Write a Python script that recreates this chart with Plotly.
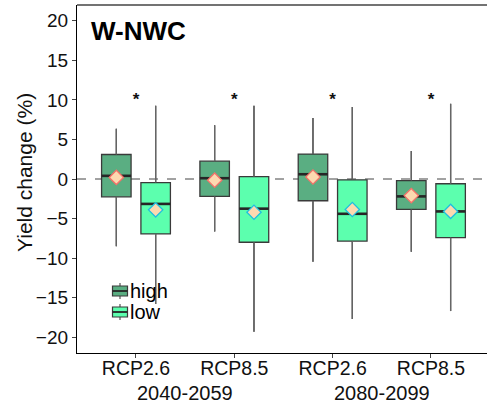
import plotly.graph_objects as go

categories = ["RCP2.6", "RCP8.5", "RCP2.6", "RCP8.5"]
periods = ["2040-2059", "2080-2099"]
groups = ["high", "low"]

high_upper = [6.35, 6.8, 7.7, 3.55]
high_q3 = [3.1, 2.25, 3.15, -0.2]
high_median = [0.4, 0.1, 0.6, -2.2]
high_mean = [0.2, -0.15, 0.25, -2.1]
high_q1 = [-2.25, -2.2, -2.75, -3.85]
high_lower = [-8.5, -6.65, -10.45, -9.2]

low_upper = [9.25, 9.25, 9.1, 9.5]
low_q3 = [-0.45, 0.3, -0.1, -0.6]
low_median = [-3.15, -3.75, -4.4, -4.1]
low_mean = [-3.9, -4.2, -3.85, -4.1]
low_q1 = [-6.95, -8.0, -7.85, -7.4]
low_lower = [-15.8, -19.3, -17.7, -16.7]

signif_y = [10.4, 10.4, 10.4, 10.4]

HIGH_FILL = "#5AAE82"
LOW_FILL = "#5CFFAE"
DODGE = 0.2
BOXW = 0.3

pos = [i + 1 for i in range(len(categories))]
hx = [p - DODGE for p in pos]
lx = [p + DODGE for p in pos]

fig = go.Figure()

series = [
    ("high", hx, high_q1, high_median, high_q3, high_lower, high_upper, HIGH_FILL),
    ("low", lx, low_q1, low_median, low_q3, low_lower, low_upper, LOW_FILL),
]
for name, xs, q1, med, q3, lo, up, fill in series:
    fig.add_trace(go.Box(
        name=name, x=xs, q1=q1, median=med, q3=q3,
        lowerfence=lo, upperfence=up, width=BOXW,
        fillcolor=fill, line=dict(color="#3a3a3a", width=1.3),
        whiskerwidth=0, boxpoints=False, showlegend=False,
        hoverinfo="skip",
    ))

# lighter whiskers drawn over the box whiskers
for name, xs, q1, med, q3, lo, up, fill in series:
    wx, wy = [], []
    for x, a, b, c, d in zip(xs, q1, q3, lo, up):
        wx += [x, x, None, x, x, None]
        wy += [b, d, None, a, c, None]
    fig.add_trace(go.Scatter(x=wx, y=wy, mode="lines",
                             line=dict(color="#666666", width=1.3),
                             showlegend=False, hoverinfo="skip"))

# thick median lines
for xs, med in [(hx, high_median), (lx, low_median)]:
    mx, my = [], []
    for x, m in zip(xs, med):
        mx += [x - BOXW / 2, x + BOXW / 2, None]
        my += [m, m, None]
    fig.add_trace(go.Scatter(x=mx, y=my, mode="lines",
                             line=dict(color="#262626", width=2.6),
                             showlegend=False, hoverinfo="skip"))

# means
for xs, mean, edge in [(hx, high_mean, "#F4726A"), (lx, low_mean, "#1EBFE0")]:
    fig.add_trace(go.Scatter(x=xs, y=mean, mode="markers",
                             marker=dict(symbol="diamond", size=11, color="#FDD9B0",
                                         line=dict(color=edge, width=1.3)),
                             showlegend=False, hoverinfo="skip"))

# significance stars
fig.add_trace(go.Scatter(x=pos, y=[v - 0.5 for v in signif_y], mode="text",
                         text=["<b>*</b>"] * len(pos),
                         textfont=dict(family="Liberation Sans", size=17, color="#111"),
                         textposition="middle center", showlegend=False, hoverinfo="skip"))

shapes = [
    dict(type="line", xref="paper", yref="y", x0=0, x1=1, y0=0, y1=0,
         line=dict(color="#444", width=1, dash="dash"), layer="below"),
    dict(type="line", xref="paper", yref="paper", x0=0, x1=1, y0=1, y1=1,
         line=dict(color="#444", width=1.3)),
]

# hand-drawn legend (ggplot style keys, inside the panel)
PW, PH = 410.0, 348.0
def px(xp):
    return xp / PW
def py(yp):
    return 1 - yp / PH
annotations = []
for i, (g, fill) in enumerate(zip(groups, [HIGH_FILL, LOW_FILL])):
    cy = 286 + 21 * i  # centre of key in panel pixels (from top)
    shapes.append(dict(type="line", xref="paper", yref="paper",
                       x0=px(43), x1=px(43), y0=py(cy - 8), y1=py(cy + 8),
                       line=dict(color="#555", width=1.2)))
    shapes.append(dict(type="rect", xref="paper", yref="paper",
                       x0=px(35.5), x1=px(50.5), y0=py(cy - 5), y1=py(cy + 5),
                       fillcolor=fill, line=dict(color="#3a3a3a", width=1.2)))
    shapes.append(dict(type="line", xref="paper", yref="paper",
                       x0=px(35.5), x1=px(50.5), y0=py(cy), y1=py(cy),
                       line=dict(color="#262626", width=1.8)))
    annotations.append(dict(text=g, x=px(51), y=py(cy), xref="paper", yref="paper",
                            xanchor="left", yanchor="middle", showarrow=False,
                            font=dict(family="Liberation Sans", size=20, color="black")))

annotations.append(dict(text="<b>W-NWC</b>", x=0.03, y=0.975, xref="paper", yref="paper",
                        xanchor="left", yanchor="top", showarrow=False,
                        font=dict(family="Liberation Sans", size=26, color="black")))
for i, p in enumerate(periods):
    annotations.append(dict(text=p, x=1.5 + 2 * i, y=-0.115, xref="x", yref="paper",
                            xanchor="center", yanchor="middle", showarrow=False,
                            font=dict(family="Liberation Sans", size=20, color="#111")))
annotations.append(dict(text="Yield change (%)", x=px(-53), y=py(168), xref="paper",
                        yref="paper", xanchor="center", yanchor="middle", textangle=-90,
                        showarrow=False,
                        font=dict(family="Liberation Sans", size=21, color="#111")))

fig.update_layout(
    width=487, height=407,
    margin=dict(l=77, r=0, t=5, b=54),
    paper_bgcolor="white", plot_bgcolor="white",
    boxmode="overlay",
    showlegend=False,
    font=dict(family="Liberation Sans", color="#111"),
    annotations=annotations,
    shapes=shapes,
    xaxis=dict(range=[0.4, 4.57], tickvals=pos, ticktext=categories,
               showgrid=False, zeroline=False, showline=True, linecolor="black",
               linewidth=1.3, ticks="outside", ticklen=4, tickcolor="#444",
               ticklabelstandoff=-7,
               tickfont=dict(size=19.5, color="#111")),
    yaxis=dict(range=[-22, 22], tickvals=[-20, -15, -10, -5, 0, 5, 10, 15, 20],
               showgrid=False, zeroline=False, showline=True, linecolor="black",
               linewidth=1.3, ticks="outside", ticklen=4, tickcolor="#444",
               tickfont=dict(size=19, color="#111")),
)

fig.write_html("out.html", config={"displayModeBar": False},
               post_script="document.body.style.margin='0';")
